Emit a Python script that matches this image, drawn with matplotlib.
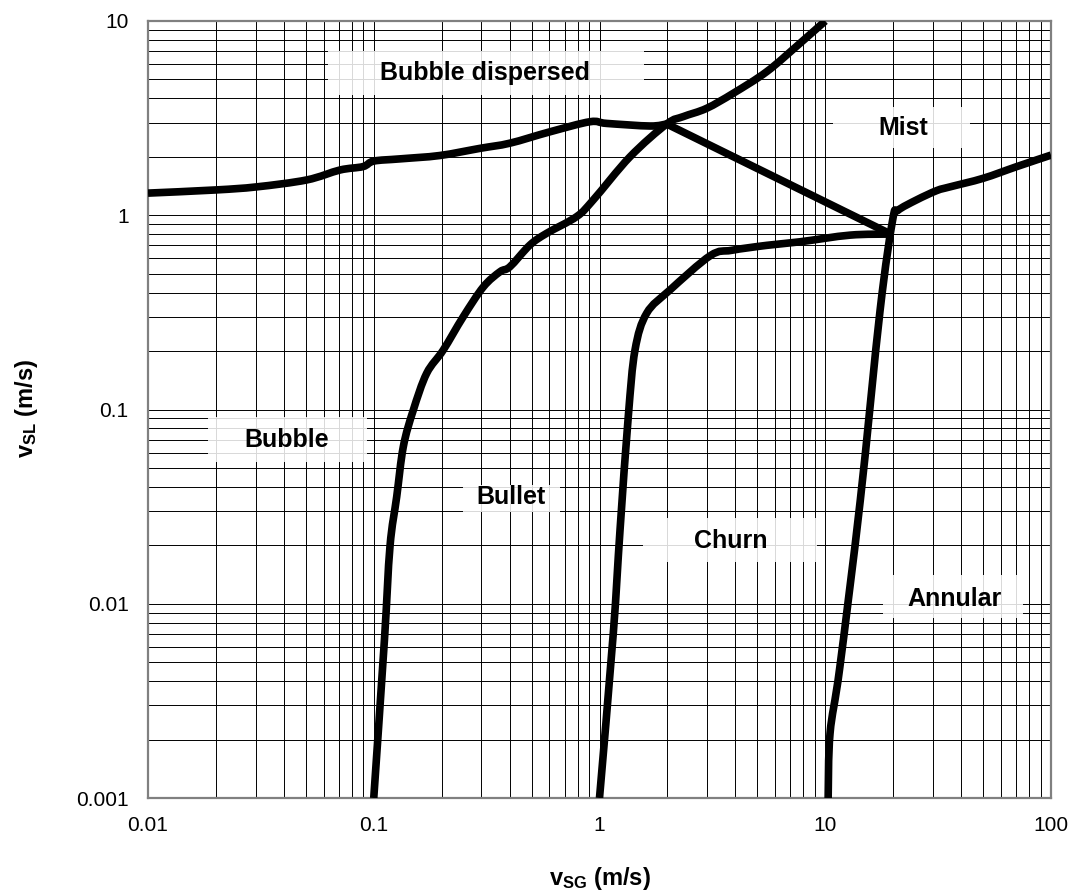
import matplotlib
matplotlib.use("Agg")
import numpy as np
import matplotlib.pyplot as plt
from matplotlib.patches import Rectangle, PathPatch
from matplotlib.path import Path
from matplotlib.ticker import LogLocator, FixedLocator, FixedFormatter, NullFormatter

plt.rcParams['font.family'] = ['Liberation Sans', 'DejaVu Sans']
plt.rcParams['mathtext.fontset'] = 'custom'
plt.rcParams['mathtext.rm'] = 'Liberation Sans'
plt.rcParams['mathtext.bf'] = 'Liberation Sans:bold'

# boundary curves (vSG, vSL in m/s)
bubble_x = [0.01, 0.02, 0.0303, 0.0505, 0.0709, 0.0896, 0.1, 0.13, 0.196, 0.2955,
            0.401, 0.604, 0.908, 1.076, 1.675, 1.985]
bubble_y = [1.30, 1.35, 1.40, 1.52, 1.71, 1.78, 1.90, 1.95, 2.03, 2.21,
            2.35, 2.69, 3.03, 2.97, 2.88, 2.95]

bullet_x = [0.1, 0.1115, 0.118, 0.1264, 0.1352, 0.1497, 0.1716, 0.203, 0.249,
            0.306, 0.3625, 0.401, 0.492, 0.583, 0.792, 0.939, 1.365, 1.985,
            2.35, 2.98, 3.92, 5.51, 7.73, 10.0]
bullet_y = [0.001, 0.0065, 0.0197, 0.0356, 0.0644, 0.0993, 0.1536, 0.202, 0.30,
            0.428, 0.512, 0.543, 0.703, 0.807, 0.984, 1.20, 2.0, 2.95,
            3.22, 3.55, 4.25, 5.49, 7.68, 10.0]

churn_x = [1.0, 1.151, 1.233, 1.341, 1.436, 1.618, 2.05, 3.1, 3.85, 5.51,
           7.73, 12.88, 19.5]
churn_y = [0.001, 0.00705, 0.024, 0.0918, 0.202, 0.313, 0.412, 0.62, 0.66, 0.70,
           0.73, 0.79, 0.80]

mist_x = [1.985, 19.5]
mist_y = [2.95, 0.80]

annular_x = [10.3, 10.5, 11.6, 14.3, 17.5, 19.9, 21.0, 25.4, 31.2, 35.7,
             50.1, 70.5, 100.0]
annular_y = [0.001, 0.00215, 0.0047, 0.0342, 0.325, 0.95, 1.06, 1.20, 1.34, 1.40,
             1.55, 1.78, 2.04]

x_ticks = [0.01, 0.1, 1, 10, 100]
x_ticklabels = ['0.01', '0.1', '1', '10', '100']
y_ticks = [0.001, 0.01, 0.1, 1, 10]
y_ticklabels = ['0.001', '0.01', '0.1', '1', '10']

regions = ['Bubble dispersed', 'Mist', 'Bubble', 'Bullet', 'Churn', 'Annular']


def smooth_path(xs, ys, k=1/6):
    # excel-like smoothed line: cubic bezier through the points, built in log space
    lx, ly = np.log10(xs), np.log10(ys)
    n = len(lx)
    verts = [(lx[0], ly[0])]
    codes = [Path.MOVETO]
    for i in range(n - 1):
        p0 = max(i - 1, 0)
        p3 = min(i + 2, n - 1)
        c1 = (lx[i] + (lx[i+1] - lx[p0]) * k, ly[i] + (ly[i+1] - ly[p0]) * k)
        c2 = (lx[i+1] - (lx[p3] - lx[i]) * k, ly[i+1] - (ly[p3] - ly[i]) * k)
        verts += [c1, c2, (lx[i+1], ly[i+1])]
        codes += [Path.CURVE4] * 3
    verts = 10 ** np.array(verts)
    return Path(verts, codes)


fig = plt.figure(figsize=(10.72, 8.94), dpi=100)
ax = fig.add_axes([148/1072, 1-798/894, 903/1072, 777/894])

ax.set_xscale('log')
ax.set_yscale('log')
ax.set_xlim(0.01, 100)
ax.set_ylim(0.001, 10)

ax.xaxis.set_major_locator(FixedLocator(x_ticks))
ax.xaxis.set_major_formatter(FixedFormatter(x_ticklabels))
ax.yaxis.set_major_locator(FixedLocator(y_ticks))
ax.yaxis.set_major_formatter(FixedFormatter(y_ticklabels))
ax.xaxis.set_minor_locator(LogLocator(base=10, subs=range(2, 10), numticks=20))
ax.yaxis.set_minor_locator(LogLocator(base=10, subs=range(2, 10), numticks=20))
ax.xaxis.set_minor_formatter(NullFormatter())
ax.yaxis.set_minor_formatter(NullFormatter())

ax.set_axisbelow(True)
ax.grid(True, which='both', color='black', lw=0.7)
ax.tick_params(which='both', length=0, labelsize=15)
ax.tick_params(axis='x', pad=13)
ax.tick_params(axis='y', pad=14)
for s in ax.spines.values():
    s.set_color('#808080')
    s.set_linewidth(1.6)

for xs, ys in [(bubble_x, bubble_y), (bullet_x, bullet_y), (churn_x, churn_y),
               (mist_x, mist_y), (annular_x, annular_y)]:
    ax.add_patch(PathPatch(smooth_path(xs, ys), facecolor='none', edgecolor='black',
                           lw=5.5, capstyle='butt', joinstyle='round', zorder=3))

# label boxes (axes fraction): box x0, x1, y0, y1, text x, y
boxes = [(0.199, 0.549, 0.905, 0.962, 0.373, 0.933),
         (0.759, 0.910, 0.837, 0.889, 0.836, 0.862),
         (0.066, 0.2425, 0.432, 0.490, 0.154, 0.461),
         (0.349, 0.456, 0.368, 0.403, 0.402, 0.387),
         (0.548, 0.741, 0.304, 0.360, 0.645, 0.331),
         (0.814, 0.969, 0.232, 0.287, 0.893, 0.256)]
for name, (x0, x1, y0, y1, tx, ty) in zip(regions, boxes):
    ax.add_patch(Rectangle((x0, y0), x1 - x0, y1 - y0, transform=ax.transAxes,
                           facecolor='white', edgecolor='none', alpha=0.85, zorder=2))
    ax.text(tx, ty, name, transform=ax.transAxes, ha='center', va='center',
            fontsize=18, fontweight='bold', zorder=4)

fig.text(599.5/1072, 1-878/894, r'$\mathbf{v_{SG}}$ (m/s)', ha='center', va='center',
         fontsize=17, fontweight='bold')
fig.text(27/1072, 1-408/894, r'$\mathbf{v_{SL}}$ (m/s)', ha='center', va='center',
         fontsize=17, fontweight='bold', rotation=90)

fig.savefig('out.png', dpi=100)
